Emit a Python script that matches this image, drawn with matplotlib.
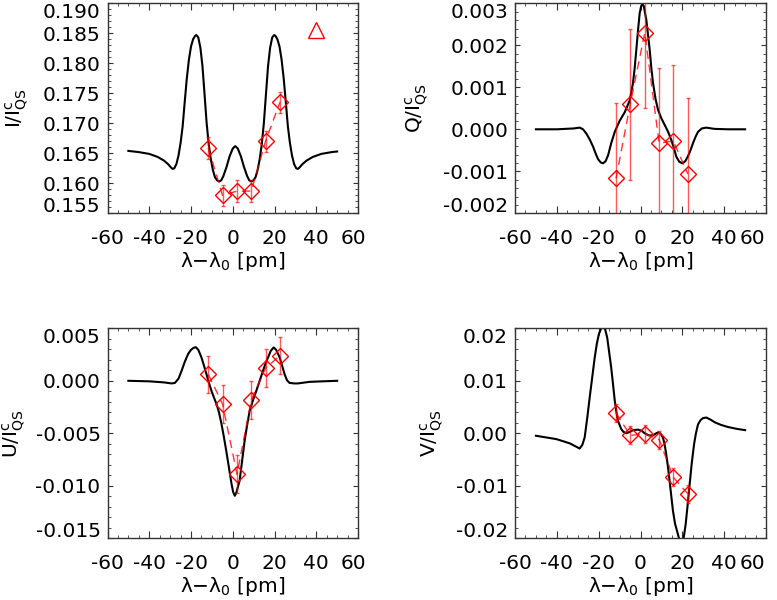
import numpy as np
import matplotlib
matplotlib.use('Agg')
from matplotlib import pyplot as plt
from matplotlib import transforms
from matplotlib.ticker import MultipleLocator, FormatStrFormatter

plt.rcParams['font.family'] = ['DejaVu Sans']
plt.rcParams['font.size'] = 14.5
plt.rcParams['mathtext.fontset'] = 'custom'
plt.rcParams['mathtext.rm'] = 'DejaVu Sans'
plt.rcParams['axes.unicode_minus'] = False

# observed wavelength positions [pm] and Stokes values
wl_obs = [-11.7, -4.9, 2.05, 8.9, 15.7, 22.6]
i_obs = [0.1659, 0.1580, 0.1587, 0.1587, 0.1670, 0.1735]
q_obs = [-1.17, 0.60, 2.30, -0.33, -0.28, -1.06]    # x 1e-3
u_obs = [0.60, -2.20, -8.90, -1.80, 1.20, 2.40]     # x 1e-3
v_obs = [3.9, -0.4, -0.1, -1.2, -8.4, -11.5]        # x 1e-3
i_err = 0.0018
qu_err = 1.8     # x 1e-3
v_err = 1.7      # x 1e-3

# continuum point in the I panel
cont_wl = [40]
cont_i = [0.1856]

# synthetic profiles
i_wl = [-50, -45, -40, -36, -33, -31, -29.5, -28.8, -28, -27,
        -26, -25, -24, -23, -22, -21, -20, -19, -18, -17.4,
        -16.5, -15.5, -14.5, -13.5, -12.5, -11.5, -10.5, -9.5, -8.5, -7.5,
        -6.5, -5.5, -4.5, -3, -1.5, 0, 1.2, 2.4, 3.9, 5.4,
        6.9, 7.9, 8.9, 9.9, 10.9, 11.9, 12.9, 13.9, 14.9, 15.9,
        16.9, 17.9, 18.9, 19.8, 20.4, 21.4, 22.4, 23.4, 24.4, 25.4,
        26.4, 27.4, 28.4, 29.4, 30.4, 31.2, 31.9, 33.4, 35.4, 38.4,
        42.4, 47.4, 50]
i_prof = [0.1654, 0.1652, 0.1649, 0.1644, 0.1638, 0.1632, 0.1626, 0.1624, 0.1625, 0.1632,
          0.1646, 0.1667, 0.1695, 0.1736, 0.1775, 0.1806, 0.1828, 0.1840, 0.1846, 0.1847,
          0.1843, 0.1826, 0.1795, 0.1748, 0.1700, 0.1665, 0.1640, 0.1622, 0.1610, 0.1605,
          0.1603, 0.1605, 0.1612, 0.1627, 0.1645, 0.1658, 0.1662, 0.1658, 0.1645, 0.1627,
          0.1612, 0.1605, 0.1603, 0.1605, 0.1610, 0.1622, 0.1640, 0.1665, 0.1700, 0.1748,
          0.1795, 0.1826, 0.1843, 0.1847, 0.1846, 0.1840, 0.1828, 0.1806, 0.1775, 0.1736,
          0.1695, 0.1667, 0.1646, 0.1632, 0.1625, 0.1624, 0.1626, 0.1632, 0.1638, 0.1644,
          0.1649, 0.1652, 0.1653]

q_wl = [-50, -40, -32, -29, -27.5, -25.9, -24.3, -22.7, -21.5, -20.3,
        -19, -17.9, -16.7, -15.5, -14.0, -12.3, -10.0, -7.6, -5.2, -3.6,
        -2.8, -2.0, -1.2, -0.4, 0.3, 0.9, 1.6, 2.8, 3.6, 4.4,
        5.2, 6.0, 7.2, 8.4, 10.0, 11.6, 13.2, 14.7, 16.0, 17.1,
        18.5, 20.0, 21.4, 22.7, 23.9, 25.1, 26.3, 27.5, 29.3, 31.4,
        35.4, 42, 50]
q_prof = [0.0, 0.0, 0.02, 0.04, 0.0, -0.10, -0.24, -0.41, -0.57, -0.71,
          -0.79, -0.81, -0.76, -0.62, -0.33, -0.06, 0.20, 0.40, 0.68, 1.10,
          1.45, 1.89, 2.35, 2.76, 2.93, 2.98, 2.93, 2.60, 2.25, 1.89,
          1.45, 1.10, 0.72, 0.46, 0.26, 0.10, -0.06, -0.25, -0.45, -0.65,
          -0.77, -0.81, -0.76, -0.64, -0.50, -0.33, -0.18, -0.06, 0.02, 0.04,
          0.01, 0.0, 0.0]   # x 1e-3

u_wl = [-50, -40, -33, -29.3, -27.7, -26, -24.5, -23, -21.4, -20,
        -18.7, -17.7, -16.5, -15, -13.8, -12.6, -11.4, -10.2, -9, -7.8,
        -6.6, -5.4, -4.2, -3.0, -1.8, -0.6, 0.2, 1.0, 1.8, 3.3,
        4.5, 5.7, 6.9, 8.1, 9.7, 11.3, 12.9, 14.5, 15.7, 16.9,
        18.2, 19.6, 20.8, 22.5, 23.7, 24.8, 26, 27.2, 29.5, 31.2,
        36.8, 43, 50]
u_prof = [0.0, -0.05, -0.15, -0.25, -0.2, 0.2, 0.95, 1.8, 2.55, 2.95,
          3.15, 3.2, 2.95, 2.23, 1.45, 0.64, -0.2, -0.95, -1.6, -2.2,
          -3.0, -4.1, -5.4, -6.8, -8.3, -9.8, -10.6, -10.95, -10.6, -9.5,
          -7.6, -5.7, -4.2, -2.86, -1.85, -0.95, 0.0, 0.95, 1.65, 2.22,
          2.85, 3.18, 2.95, 2.22, 1.4, 0.64, 0.05, -0.2, -0.25, -0.25,
          -0.1, -0.05, 0.0]   # x 1e-3

v_wl = [-50, -40.3, -33.9, -31, -29.1, -27.8, -26.7, -25.5, -24.3, -23.1,
        -21.9, -20.9, -19.9, -18.9, -17.9, -16.9, -15.9, -15.0, -14.0, -13.1,
        -12.3, -11.5, -10.8, -9.2, -8.2, -6.8, -5.0, -3.6, -1.2, 0.5,
        2.0, 4.0, 6.0, 7.5, 8.7, 9.7, 10.7, 11.5, 12.3, 13.1,
        13.9, 14.7, 15.5, 16.5, 17.6, 18.6, 19.5, 20.5, 21.6, 22.5,
        23.5, 24.5, 25.6, 26.5, 27.5, 28.7, 29.9, 31.5, 33.5, 35.5,
        38.5, 41.8, 46, 50]
v_prof = [-0.47, -1.1, -1.9, -2.5, -2.9, -2.2, -0.8, 2.8, 6.8, 10.6,
          14.4, 17.0, 18.9, 19.9, 20.3, 19.8, 18.2, 15.5, 12.5, 9.2,
          6.2, 4.0, 2.4, 0.8, 0.3, 0.0, 0.3, 0.6, 0.7, 0.5,
          0.0, -0.4, -0.4, 0.0, 0.2, -0.1, -0.8, -2.0, -4.0, -6.3,
          -9.0, -11.9, -14.7, -17.2, -18.8, -20.3, -21.0, -20.3, -17.3, -13.8,
          -9.7, -5.7, -2.1, 0.0, 1.7, 2.5, 2.9, 3.0, 2.6, 2.1,
          1.6, 1.2, 0.85, 0.6]   # x 1e-3

xlab = r'λ−λ$_{\rm 0}$ [pm]'
ylabs = [r'I/I$^{\rm c}_{\rm QS}$', r'Q/I$^{\rm c}_{\rm QS}$',
         r'U/I$^{\rm c}_{\rm QS}$', r'V/I$^{\rm c}_{\rm QS}$']

fig = plt.figure(figsize=(7.77, 6.0), dpi=100)
W, H = 777.0, 600.0
# axes boxes in pixels: left, top, right, bottom
boxes = [(107.5, 3.3, 358, 213.3), (515, 3.3, 766, 213.3),
         (107.5, 328.3, 358, 538.3), (515, 328.3, 766, 538.3)]
axs = []
for l, t, r, b in boxes:
    axs.append(fig.add_axes([l / W, 1 - b / H, (r - l) / W, (b - t) / H]))

red = '#ff0000'


def shift(tl, dx, dy):
    tl.set_transform(tl.get_transform() +
                     transforms.ScaledTranslation(dx / 72, dy / 72, fig.dpi_scale_trans))


def panel(ax, wl, prof, obs, err, ylim, major, minor, fmt, ylab, labx, xshift):
    ax.plot(wl, prof, color='black', lw=1.5, zorder=2)
    ax.errorbar(wl_obs, obs, yerr=err, fmt='none', ecolor=red, alpha=0.65,
                elinewidth=1.0, capsize=1.5, capthick=1.0, zorder=3)
    ax.plot(wl_obs, obs, color=red, lw=1.0, dashes=(6, 4), alpha=0.8, zorder=3)
    ax.plot(wl_obs, obs, 'D', mfc='none', mec=red, mew=1.0, ms=8, zorder=4)
    ax.set_xlim(-60, 60)
    ax.set_ylim(*ylim)
    ax.xaxis.set_major_locator(MultipleLocator(20))
    ax.xaxis.set_minor_locator(MultipleLocator(5))
    ax.yaxis.set_major_locator(MultipleLocator(major))
    ax.yaxis.set_minor_locator(MultipleLocator(minor))
    ax.yaxis.set_major_formatter(FormatStrFormatter(fmt))
    ax.tick_params(which='both', direction='in', top=True, right=True, color='#333333')
    ax.tick_params(axis='x', which='major', length=5, pad=11)
    ax.tick_params(axis='x', which='minor', length=2.5)
    ax.tick_params(axis='y', which='major', length=3.8, pad=5)
    ax.tick_params(axis='y', which='minor', length=2)
    for s in ax.spines.values():
        s.set_color('#333333')
        s.set_linewidth(1.0)
    ax.set_xlabel(xlab, labelpad=2)
    ax.set_ylabel(ylab, va='center')
    ax.yaxis.set_label_coords(labx, 0.5)
    # end labels pulled inward, as in the original
    fig.canvas.draw()
    for tl, v in zip(ax.get_yticklabels(), ax.get_yticks()):
        if abs(v - ylim[1]) < minor * 0.1:
            shift(tl, 0, -5)
        if abs(v - ylim[0]) < minor * 0.1:
            shift(tl, 0, 6)
    for tl, v in zip(ax.get_xticklabels(), ax.get_xticks()):
        if abs(v - 60) < 0.1:
            shift(tl, xshift, 0)


panel(axs[0], i_wl, i_prof, i_obs, i_err, (0.155, 0.190), 0.005, 0.001, '%.3f',
      ylabs[0], -0.363, -3)
axs[0].plot(cont_wl, cont_i, '^', mfc='none', mec=red, mew=1.0, ms=11, zorder=4)

panel(axs[1], q_wl, np.array(q_prof) * 1e-3, np.array(q_obs) * 1e-3, qu_err * 1e-3,
      (-0.002, 0.003), 0.001, 0.0002, '%.3f', ylabs[1], -0.39, -9.5)
panel(axs[2], u_wl, np.array(u_prof) * 1e-3, np.array(u_obs) * 1e-3, qu_err * 1e-3,
      (-0.015, 0.005), 0.005, 0.001, '%.3f', ylabs[2], -0.375, -3)
panel(axs[3], v_wl, np.array(v_prof) * 1e-3, np.array(v_obs) * 1e-3, v_err * 1e-3,
      (-0.02, 0.02), 0.01, 0.002, '%.2f', ylabs[3], -0.33, -9.5)

fig.savefig('out.png', dpi=100)
